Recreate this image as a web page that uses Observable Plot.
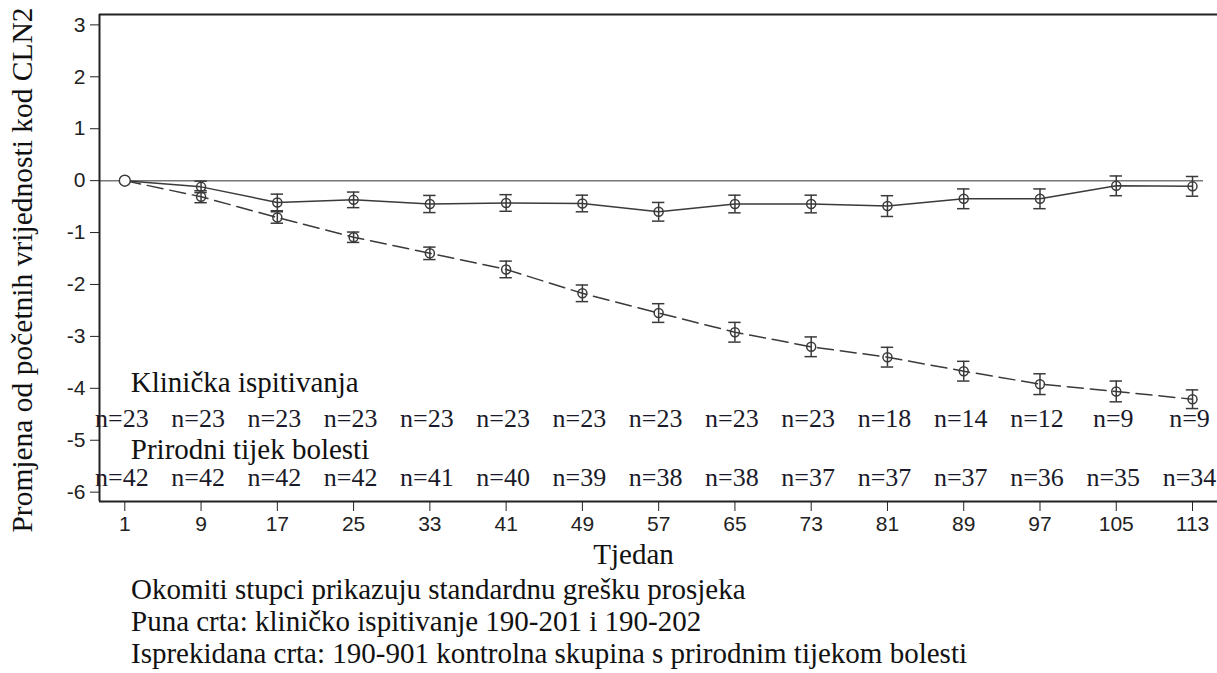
<!DOCTYPE html>
<html>
<head>
<meta charset="utf-8">
<script src="https://cdn.jsdelivr.net/npm/d3@7"></script>
<script src="https://cdn.jsdelivr.net/npm/@observablehq/plot@0.6"></script>
<style>
  body { margin: 0; background: #fff; }
  #notes { font-family: "Liberation Serif", "Times New Roman", serif; font-size: 29px; line-height: 32.2px; color: #111; padding-left: 131px; padding-top: 1px; white-space: nowrap; }
</style>
</head>
<body>
<div id="chart"></div>
<div id="notes"></div>
<script>
const weeks = [1, 9, 17, 25, 33, 41, 49, 57, 65, 73, 81, 89, 97, 105, 113];
const trialMean = [0, -0.12, -0.42, -0.37, -0.45, -0.43, -0.44, -0.60, -0.45, -0.45, -0.49, -0.35, -0.35, -0.10, -0.11];
const trialSE = [0, 0.11, 0.16, 0.15, 0.165, 0.16, 0.16, 0.18, 0.17, 0.17, 0.20, 0.19, 0.19, 0.19, 0.19];
const naturalMean = [0, -0.31, -0.71, -1.09, -1.40, -1.71, -2.17, -2.55, -2.92, -3.20, -3.40, -3.67, -3.92, -4.06, -4.21];
const naturalSE = [0, 0.115, 0.11, 0.10, 0.12, 0.16, 0.16, 0.18, 0.19, 0.19, 0.19, 0.19, 0.20, 0.20, 0.18];
const trialN = [23, 23, 23, 23, 23, 23, 23, 23, 23, 23, 18, 14, 12, 9, 9];
const naturalN = [42, 42, 42, 42, 41, 40, 39, 38, 38, 37, 37, 37, 36, 35, 34];
const yTicks = [-6, -5, -4, -3, -2, -1, 0, 1, 2, 3];

const trialLabel = "Klinička ispitivanja";
const naturalLabel = "Prirodni tijek bolesti";
const xTitle = "Tjedan";
const yTitle = "Promjena od početnih vrijednosti kod CLN2";
const notes = [
  "Okomiti stupci prikazuju standardnu grešku prosjeka",
  "Puna crta: kliničko ispitivanje 190-201 i 190-202",
  "Isprekidana crta: 190-901 kontrolna skupina s prirodnim tijekom bolesti"
];

const serif = `"Liberation Serif", "Times New Roman", serif`;
const sans = `"Liberation Sans", Arial, sans-serif`;

const trialRows = weeks.map((w, i) => ({week: w, mean: trialMean[i], se: trialSE[i], n: trialN[i]}));
const naturalRows = weeks.map((w, i) => ({week: w, mean: naturalMean[i], se: naturalSE[i], n: naturalN[i]}));

const xDomain = [-1.654, 115.62];
const yDomain = [-6.18, 3.2];
const ink = "#3a3a3a";

function seriesMarks(rows, dash) {
  const rest = rows.filter(d => d.se > 0);
  return [
    Plot.line(rows, {x: "week", y: "mean", stroke: ink, strokeWidth: 1.5, strokeDasharray: dash}),
    Plot.ruleX(rest, {x: "week", y1: d => d.mean - d.se, y2: d => d.mean + d.se, stroke: ink, strokeWidth: 1.5}),
    Plot.ruleY(rest, {y: d => d.mean + d.se, x1: d => d.week - 0.65, x2: d => d.week + 0.65, stroke: ink, strokeWidth: 1.5}),
    Plot.ruleY(rest, {y: d => d.mean - d.se, x1: d => d.week - 0.65, x2: d => d.week + 0.65, stroke: ink, strokeWidth: 1.5}),
    Plot.dot(rest, {x: "week", y: "mean", r: 4.5, stroke: ink, strokeWidth: 1.5, fill: "none"})
  ];
}

const chart = Plot.plot({
  width: 1217,
  height: 572,
  marginLeft: 99,
  marginRight: 0,
  marginTop: 14,
  marginBottom: 71,
  style: {background: "#fff", color: "#222"},
  x: {domain: xDomain},
  y: {domain: yDomain},
  marks: [
    Plot.axisY({ticks: yTicks, tickSize: 9, tickPadding: 5, fontSize: 21, fontFamily: sans, tickFormat: d => String(d), label: null}),
    Plot.axisX({ticks: weeks, tickSize: 10, tickPadding: 5, fontSize: 21, fontFamily: sans, tickFormat: d => String(d), label: null}),
    Plot.ruleY([0], {x1: xDomain[0], x2: 114.15, stroke: "#777", strokeWidth: 1.5}),
    ...seriesMarks(trialRows, null),
    ...seriesMarks(naturalRows, "16,7"),
    Plot.dot(trialRows.slice(0, 1), {x: "week", y: "mean", r: 5.5, stroke: ink, strokeWidth: 1.5, fill: "#fff"}),
    Plot.ruleX([xDomain[0]], {stroke: "#222", strokeWidth: 2}),
    Plot.ruleY([yDomain[0], yDomain[1]], {stroke: "#222", strokeWidth: 2}),
    Plot.text([trialLabel], {x: 1, y: -4.08, dx: 6, textAnchor: "start", lineAnchor: "bottom", fontSize: 29, fontFamily: serif, fill: "#111"}),
    Plot.text([naturalLabel], {x: 1, y: -5.36, dx: 6, textAnchor: "start", lineAnchor: "bottom", fontSize: 29, fontFamily: serif, fill: "#111"}),
    Plot.text(trialRows, {x: "week", y: () => -4.74, dx: -3, text: d => "n=" + d.n, lineAnchor: "bottom", fontSize: 26, fontFamily: serif, fill: "#1a1a2a"}),
    Plot.text(naturalRows, {x: "week", y: () => -5.89, dx: -3, text: d => "n=" + d.n, lineAnchor: "bottom", fontSize: 26, fontFamily: serif, fill: "#1a1a2a"}),
    Plot.text([xTitle], {frameAnchor: "bottom", dx: -25, dy: 62, lineAnchor: "bottom", fontSize: 29, fontFamily: serif, fill: "#111"}),
    Plot.text([yTitle], {frameAnchor: "left", textAnchor: "middle", rotate: -90, dx: -77, dy: 12, fontSize: 29.5, fontFamily: serif, fill: "#111"})
  ]
});
document.getElementById("chart").append(chart);
document.getElementById("notes").innerHTML = notes.map(t => `<div>${t}</div>`).join("");
</script>
</body>
</html>
